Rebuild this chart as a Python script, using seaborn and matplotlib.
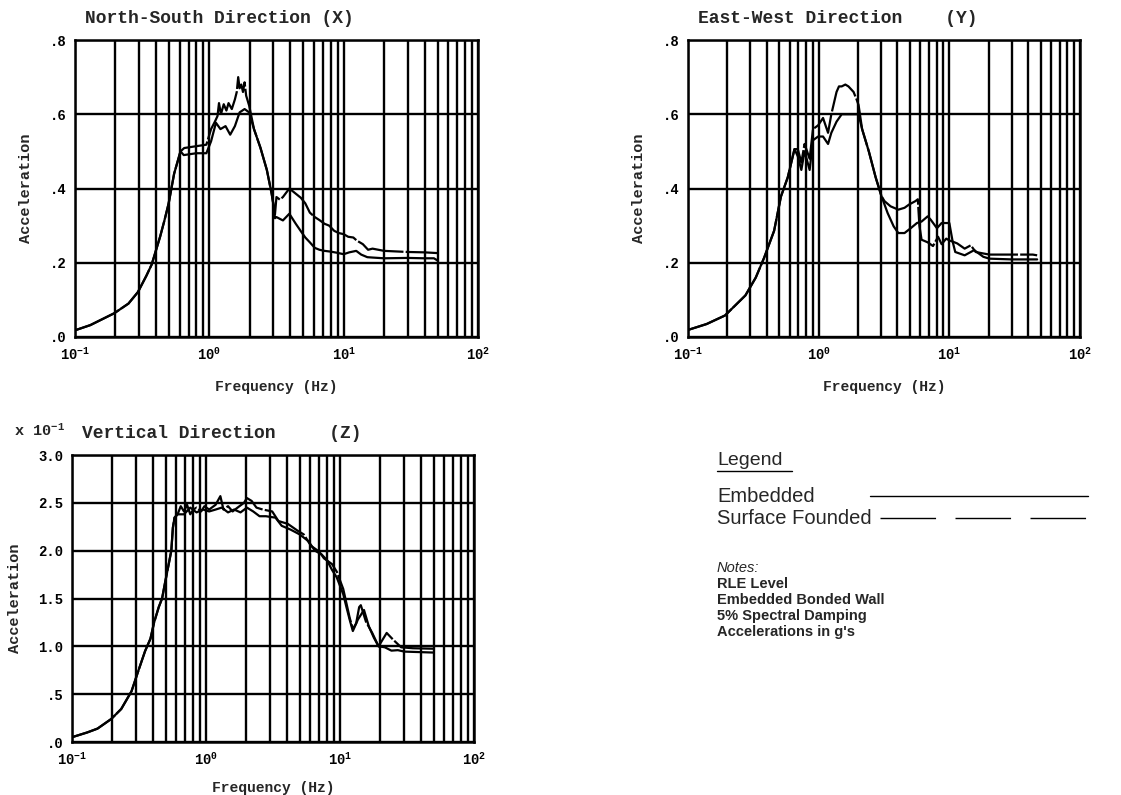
import numpy as np
import pandas as pd
import matplotlib
matplotlib.use("Agg")
import matplotlib.pyplot as plt
from matplotlib.lines import Line2D
from matplotlib.ticker import FixedLocator, FixedFormatter, LogLocator, NullFormatter
import seaborn as sns

# ---------------- data ----------------
series_names = ["Embedded", "Surface Founded"]

# North-South (X)
ns_common_f = [0.1, 0.13, 0.196, 0.25, 0.294, 0.34, 0.372, 0.43, 0.464, 0.498, 0.547, 0.61]
ns_common_a = [0.018, 0.032, 0.064, 0.09, 0.121, 0.165, 0.195, 0.27, 0.315, 0.36, 0.44, 0.50]
ns_surf_f = [0.65, 0.80, 0.95, 1.03, 1.10, 1.15, 1.18, 1.22, 1.28, 1.34, 1.39, 1.47, 1.55, 1.60,
             1.64, 1.68, 1.73, 1.78, 1.83, 1.88, 1.98, 2.15, 2.4, 2.68, 2.91, 2.99, 3.08, 3.16,
             3.35, 3.53, 3.94, 4.4, 4.8, 5.18, 5.6, 6.1, 6.6, 7.2, 7.8, 8.5, 9.2, 10.0, 10.8,
             11.8, 12.5, 13.9, 15.2, 16.4, 20.0, 30.0, 40.0, 50.0]
ns_surf_a = [0.509, 0.514, 0.518, 0.56, 0.58, 0.595, 0.63, 0.60, 0.627, 0.61, 0.63, 0.614, 0.64,
             0.66, 0.70, 0.67, 0.68, 0.66, 0.686, 0.65, 0.623, 0.56, 0.51, 0.45, 0.386, 0.36,
             0.33, 0.377, 0.37, 0.377, 0.40, 0.386, 0.375, 0.36, 0.335, 0.323, 0.315, 0.305,
             0.30, 0.286, 0.28, 0.277, 0.27, 0.268, 0.26, 0.25, 0.235, 0.238, 0.232, 0.229,
             0.228, 0.226]
ns_emb_f = [0.645, 0.80, 0.95, 1.03, 1.12, 1.21, 1.32, 1.43, 1.55, 1.68, 1.83, 1.98, 2.15, 2.4,
            2.68, 2.91, 2.99, 3.08, 3.16, 3.53, 3.94, 4.4, 4.8, 5.18, 5.6, 6.1, 6.6, 7.2, 8.0,
            8.9, 10.0, 11.0, 12.4, 13.5, 15.0, 16.4, 20.0, 30.0, 40.0, 47.0, 50.0]
ns_emb_a = [0.49, 0.495, 0.495, 0.527, 0.577, 0.56, 0.568, 0.545, 0.568, 0.605, 0.614, 0.605,
            0.56, 0.51, 0.45, 0.386, 0.36, 0.32, 0.323, 0.314, 0.332, 0.305, 0.285, 0.268,
            0.255, 0.24, 0.235, 0.232, 0.23, 0.227, 0.223, 0.228, 0.232, 0.222, 0.215, 0.214,
            0.212, 0.213, 0.212, 0.212, 0.206]

# East-West (Y)
ew_common_f = [0.1, 0.139, 0.192, 0.275, 0.33, 0.382, 0.456, 0.514, 0.58, 0.653]
ew_common_a = [0.019, 0.035, 0.058, 0.112, 0.16, 0.213, 0.286, 0.378, 0.43, 0.506]
ew_surf_f = [0.692, 0.737, 0.78, 0.853, 0.905, 0.99, 1.08, 1.18, 1.25, 1.37, 1.43, 1.5, 1.6,
             1.69, 1.85, 1.95, 2.02, 2.15, 2.42, 2.73, 3.02, 3.19, 3.55, 4.07, 4.54, 4.93, 5.5,
             5.74, 5.9, 6.13, 6.83, 7.5, 8.2, 8.73, 9.47, 10.0, 10.6, 11.5, 13.1, 14.6, 15.9,
             18.2, 20.3, 30.0, 43.5, 47.0]
ew_surf_a = [0.506, 0.47, 0.52, 0.48, 0.56, 0.57, 0.59, 0.55, 0.60, 0.66, 0.675, 0.675, 0.68,
             0.675, 0.66, 0.64, 0.625, 0.56, 0.50, 0.43, 0.38, 0.366, 0.352, 0.343, 0.348,
             0.357, 0.366, 0.371, 0.30, 0.262, 0.255, 0.245, 0.27, 0.25, 0.265, 0.26, 0.257,
             0.252, 0.238, 0.247, 0.229, 0.225, 0.222, 0.222, 0.222, 0.22]
ew_emb_f = [0.692, 0.737, 0.78, 0.853, 0.905, 0.99, 1.08, 1.18, 1.25, 1.37, 1.5, 1.69, 1.85,
            2.02, 2.15, 2.42, 2.73, 3.02, 3.37, 3.75, 4.07, 4.54, 5.06, 5.65, 6.13, 6.83, 7.2,
            8.04, 8.73, 9.47, 10.0, 10.6, 11.1, 13.1, 15.5, 18.2, 20.3, 30.0, 43.5, 47.0]
ew_emb_a = [0.487, 0.45, 0.50, 0.45, 0.53, 0.54, 0.54, 0.52, 0.55, 0.58, 0.60, 0.60, 0.60,
            0.60, 0.56, 0.50, 0.43, 0.38, 0.334, 0.298, 0.28, 0.28, 0.293, 0.307, 0.311,
            0.325, 0.316, 0.293, 0.307, 0.307, 0.307, 0.257, 0.229, 0.22, 0.234, 0.216, 0.211,
            0.209, 0.209, 0.209]

# Vertical (Z), values in units of 10^-1 g
v_common_f = [0.1, 0.13, 0.155, 0.196, 0.233, 0.278, 0.312, 0.351, 0.385, 0.41, 0.444, 0.47,
              0.494, 0.522, 0.551, 0.566, 0.582, 0.614]
v_common_a = [0.05, 0.10, 0.14, 0.24, 0.345, 0.53, 0.74, 0.95, 1.08, 1.25, 1.41, 1.5, 1.66,
              1.83, 2.0, 2.24, 2.345, 2.38]
v_surf_f = [0.648, 0.685, 0.722, 0.763, 0.805, 0.85, 0.92, 0.973, 1.056, 1.18, 1.28, 1.35,
            1.46, 1.58, 1.72, 1.92, 2.02, 2.19, 2.38, 2.65, 3.12, 3.47, 4.08, 4.81, 5.36, 6.08,
            7.0, 7.59, 8.71, 9.46, 10.57, 11.17, 11.8, 12.47, 13.2, 13.9, 14.3, 15.6, 17.4,
            19.4, 22.3, 24.9, 28.6, 35.0, 49.6]
v_surf_a = [2.465, 2.41, 2.48, 2.38, 2.43, 2.45, 2.41, 2.465, 2.43, 2.48, 2.57, 2.43, 2.465,
            2.41, 2.45, 2.5, 2.55, 2.52, 2.45, 2.43, 2.41, 2.31, 2.28, 2.21, 2.17, 2.05, 1.99,
            1.92, 1.86, 1.78, 1.6, 1.45, 1.30, 1.18, 1.24, 1.41, 1.43, 1.26, 1.14, 1.0, 1.14,
            1.07, 0.99, 0.98, 0.975]
v_emb_f = [0.685, 0.763, 0.85, 0.95, 1.056, 1.18, 1.31, 1.46, 1.62, 1.81, 2.02, 2.25, 2.51,
           2.8, 3.3, 3.67, 4.28, 5.0, 5.8, 6.5, 7.3, 8.0, 8.71, 9.46, 10.57, 11.17, 11.8, 12.47,
           13.6, 15.1, 16.4, 17.9, 19.4, 21.6, 24.2, 27.0, 30.2, 49.6]
v_emb_a = [2.38, 2.45, 2.40, 2.43, 2.41, 2.43, 2.45, 2.40, 2.43, 2.40, 2.45, 2.41, 2.36, 2.36,
           2.345, 2.26, 2.22, 2.17, 2.10, 2.0, 1.96, 1.90, 1.80, 1.72, 1.545, 1.41, 1.28, 1.16,
           1.28, 1.38, 1.21, 1.09, 1.0, 0.99, 0.955, 0.96, 0.945, 0.935]

titles = ["North-South Direction (X)", "East-West Direction    (Y)", "Vertical Direction     (Z)"]
x_ticks = [0.1, 1, 10, 100]
x_ticklabels = ["10$^{-1}$", "10$^{0}$", "10$^{1}$", "10$^{2}$"]
y_ticks_hz = [0.0, 0.2, 0.4, 0.6, 0.8]
y_ticklabels_hz = [".0", ".2", ".4", ".6", ".8"]
y_ticks_v = [0.0, 0.5, 1.0, 1.5, 2.0, 2.5, 3.0]
y_ticklabels_v = [".0", ".5", "1.0", "1.5", "2.0", "2.5", "3.0"]
notes = ["RLE Level", "Embedded Bonded Wall", "5% Spectral Damping", "Accelerations in g's"]


def build(common_f, common_a, emb_f, emb_a, surf_f, surf_a):
    rows = []
    for f, a in zip(common_f + emb_f, common_a + emb_a):
        rows.append((f, a, "Embedded"))
    for f, a in zip(common_f + surf_f, common_a + surf_a):
        rows.append((f, a, "Surface Founded"))
    return pd.DataFrame(rows, columns=["Frequency", "Acceleration", "Case"])


df_ns = build(ns_common_f, ns_common_a, ns_emb_f, ns_emb_a, ns_surf_f, ns_surf_a)
df_ew = build(ew_common_f, ew_common_a, ew_emb_f, ew_emb_a, ew_surf_f, ew_surf_a)
df_v = build(v_common_f, v_common_a, v_emb_f, v_emb_a, v_surf_f, v_surf_a)

# ---------------- styling ----------------
sns.set_theme(style="white")
mono = ["Liberation Mono", "DejaVu Sans Mono"]
plt.rcParams["font.family"] = mono
plt.rcParams["font.weight"] = "bold"
plt.rcParams["mathtext.fontset"] = "custom"
plt.rcParams["mathtext.rm"] = "Liberation Mono:bold"
plt.rcParams["mathtext.default"] = "rm"

W, H = 1121, 795
fig = plt.figure(figsize=(W / 100, H / 100), dpi=100)
fig.patch.set_facecolor("white")


def px_axes(l, r, t, b):
    return fig.add_axes([l / W, 1 - b / H, (r - l) / W, (b - t) / H])


ax1 = px_axes(75, 478, 40, 337)
ax2 = px_axes(688, 1080, 40, 337)
ax3 = px_axes(72, 474, 455, 742)

palette = {"Embedded": "black", "Surface Founded": "black"}
dashes = {"Embedded": "", "Surface Founded": (22, 1.0)}

for ax, df, title, yt, ytl, ylim, lp in [
    (ax1, df_ns, titles[0], y_ticks_hz, y_ticklabels_hz, (0, 0.8), 12),
    (ax2, df_ew, titles[1], y_ticks_hz, y_ticklabels_hz, (0, 0.8), 12),
    (ax3, df_v, titles[2], y_ticks_v, y_ticklabels_v, (0, 3.0), 9),
]:
    sns.lineplot(data=df, x="Frequency", y="Acceleration", hue="Case", style="Case",
                 palette=palette, dashes=dashes, sort=False, estimator=None,
                 linewidth=1.6, legend=False, ax=ax, zorder=3)
    ax.set_xscale("log")
    ax.set_xlim(0.1, 100)
    ax.set_ylim(*ylim)
    ax.xaxis.set_major_locator(FixedLocator(x_ticks))
    ax.xaxis.set_major_formatter(FixedFormatter(x_ticklabels))
    ax.xaxis.set_minor_locator(LogLocator(base=10, subs=np.arange(2, 10)))
    ax.xaxis.set_minor_formatter(NullFormatter())
    ax.yaxis.set_major_locator(FixedLocator(yt))
    ax.yaxis.set_major_formatter(FixedFormatter(ytl))
    ax.grid(which="both", axis="x", color="black", linewidth=1.7)
    ax.grid(which="major", axis="y", color="black", linewidth=1.7)
    ax.tick_params(which="both", length=0, labelsize=10, colors="black")
    ax.tick_params(axis="x", pad=7)
    ax.tick_params(axis="y", pad=6)
    for lab in ax.get_xticklabels() + ax.get_yticklabels():
        lab.set_fontweight("bold")
    for s in ax.spines.values():
        s.set_color("black")
        s.set_linewidth(1.8)
    ax.set_xlabel("Frequency (Hz)", fontsize=10.5, fontweight="bold", labelpad=lp)
    ax.set_ylabel("Acceleration", fontsize=11, fontweight="bold", labelpad=12)
    ax.text(0.025, 1.045, title, transform=ax.transAxes, ha="left", va="bottom",
            fontsize=13, fontweight="bold")
    ax.set_facecolor("white")

ax3.text(-0.145, 1.055, "x 10$^{-1}$", transform=ax3.transAxes, ha="left", va="bottom",
         fontsize=11, fontweight="bold")

# ---------------- legend / notes block ----------------
sans = ["Liberation Sans", "DejaVu Sans"]
lx = 717 / W
fig.text(lx, 1 - 465 / H, "Legend", family=sans, fontsize=14, fontweight="normal",
         ha="left", va="baseline")
fig.add_artist(Line2D([lx, 792 / W], [1 - 471 / H, 1 - 471 / H], color="black", lw=1.0))
fig.text(lx, 1 - 502 / H, series_names[0], family=sans, fontsize=14.5, fontweight="normal",
         ha="left", va="baseline")
fig.add_artist(Line2D([870 / W, 1088 / W], [1 - 496 / H, 1 - 496 / H], color="black", lw=1.0))
fig.text(lx, 1 - 524 / H, series_names[1], family=sans, fontsize=14.5, fontweight="normal",
         ha="left", va="baseline")
fig.add_artist(Line2D([880 / W, 1088 / W], [1 - 518 / H, 1 - 518 / H], color="black", lw=1.0,
                      dashes=(40, 14)))
fig.text(lx, 1 - 572 / H, "Notes:", family=sans, fontsize=10.5, style="italic",
         fontweight="normal", ha="left", va="baseline")
for i, line in enumerate(notes):
    fig.text(lx, 1 - (588 + 16 * i) / H, line, family=sans, fontsize=10.5, fontweight="bold",
             ha="left", va="baseline")

fig.savefig("out.png", dpi=100, facecolor="white")
